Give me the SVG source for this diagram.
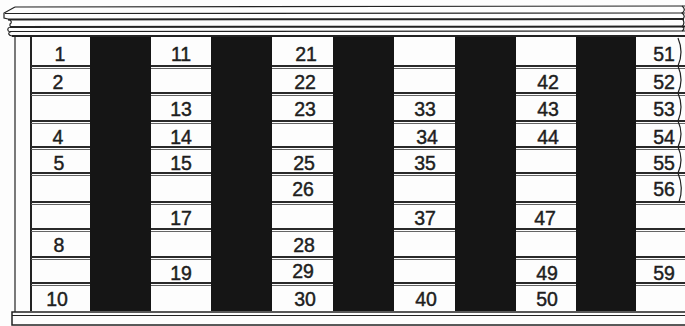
<svg xmlns="http://www.w3.org/2000/svg" width="685" height="326" viewBox="0 0 685 326">
<style>
.ln{stroke:#222;fill:none;stroke-width:1.2}
.thk{stroke:#222;fill:none;stroke-width:2}
.blk{fill:#151515}
.sep{stroke:#2a2a2a;stroke-width:2.2;fill:none}
.sep2{stroke:#555;stroke-width:0.9;fill:none}
text{font-family:"Liberation Sans",Arial,sans-serif;font-size:19.5px;fill:#1e1e1e;stroke:#1e1e1e;stroke-width:0.45;text-anchor:middle}
</style>
<rect width="685" height="326" fill="#fdfdfd"/>
<g id="cornice">
<path class="ln" d="M15 7 L685 6"/>
<path class="ln" d="M15 7 L4 13 L4 18 L8 19"/>
<path class="ln" d="M5 13.5 L685 13"/>
<path class="thk" d="M8 19.5 L684 19"/>
<path class="ln" d="M8 19.5 C12 20 12 23 10 24 L10 26"/>
<path class="thk" d="M10 27 L685 26.5"/>
<path class="ln" d="M10 27 C7 28 7 31 10 32 C8 33 8 35 12 36"/>
<path class="ln" d="M10 31.5 L685 31"/>
<path class="thk" d="M12 36 L685 36"/>
<path class="ln" d="M682 6 C686 9 684 12 682 13 C685 15 685 18 682 19 C685 21 684 25 682 26.5 C685 28 684 30 682 31"/>
</g>
<g id="side-panel">
<path class="ln" d="M15 37 L15 312"/>
<path class="thk" d="M31 37 L31 311"/>
</g>
<g id="separators">
<g class="sep">
<path d="M31 66H685M31 93H685M31 121H685M31 147H685M31 173H685M31 202H685M31 229H685M31 257H685M31 283H685"/>
</g>
<g class="sep2">
<path d="M31 68.5H685M31 95.5H685M31 123.5H685M31 149.5H685M31 175.5H685M31 204.5H685M31 231.5H685M31 259.5H685M31 285.5H685"/>
</g>
</g>
<g id="dark-columns">
<rect class="blk" x="90" y="37" width="61" height="274"/>
<rect class="blk" x="211" y="37" width="61" height="274"/>
<rect class="blk" x="333" y="37" width="61" height="274"/>
<rect class="blk" x="455" y="37" width="61" height="274"/>
<rect class="blk" x="576" y="37" width="60" height="274"/>
</g>
<g id="right-edge" class="ln">
<path d="M678 38 Q684 52 678 66 Q684 80 678 93 Q684 107 678 121 Q684 134 678 147 Q684 160 678 173 Q684 188 679 202"/>
</g>
<g id="base">
<rect x="12" y="312" width="674" height="13" fill="#fdfdfd" stroke="#222" stroke-width="1.5"/>
<path class="ln" d="M12 315.5 H685"/>
</g>
<g id="labels">
<text x="60" y="60.5">1</text>
<text x="58" y="88.5">2</text>
<text x="58" y="143.5">4</text>
<text x="59" y="169.5">5</text>
<text x="59" y="251.5">8</text>
<text x="57" y="305.5">10</text>
<text x="181" y="60.5">11</text>
<text x="181" y="115.5">13</text>
<text x="181" y="143.5">14</text>
<text x="181" y="169.5">15</text>
<text x="181" y="224.5">17</text>
<text x="181" y="279.5">19</text>
<text x="306" y="60.5">21</text>
<text x="305" y="88.5">22</text>
<text x="305" y="115.5">23</text>
<text x="304" y="169.5">25</text>
<text x="303" y="195.5">26</text>
<text x="304" y="251.5">28</text>
<text x="303" y="277.5">29</text>
<text x="305" y="305.5">30</text>
<text x="425" y="115.5">33</text>
<text x="427" y="143.5">34</text>
<text x="425" y="169.5">35</text>
<text x="425" y="224.5">37</text>
<text x="426" y="305.5">40</text>
<text x="548" y="88.5">42</text>
<text x="548" y="115.5">43</text>
<text x="548" y="143.5">44</text>
<text x="545" y="224.5">47</text>
<text x="547" y="279.5">49</text>
<text x="547" y="305.5">50</text>
<text x="664" y="60.5">51</text>
<text x="664" y="88.5">52</text>
<text x="664" y="115.5">53</text>
<text x="664" y="143.5">54</text>
<text x="664" y="169.5">55</text>
<text x="664" y="195.5">56</text>
<text x="664" y="279.5">59</text>
</g>
</svg>
